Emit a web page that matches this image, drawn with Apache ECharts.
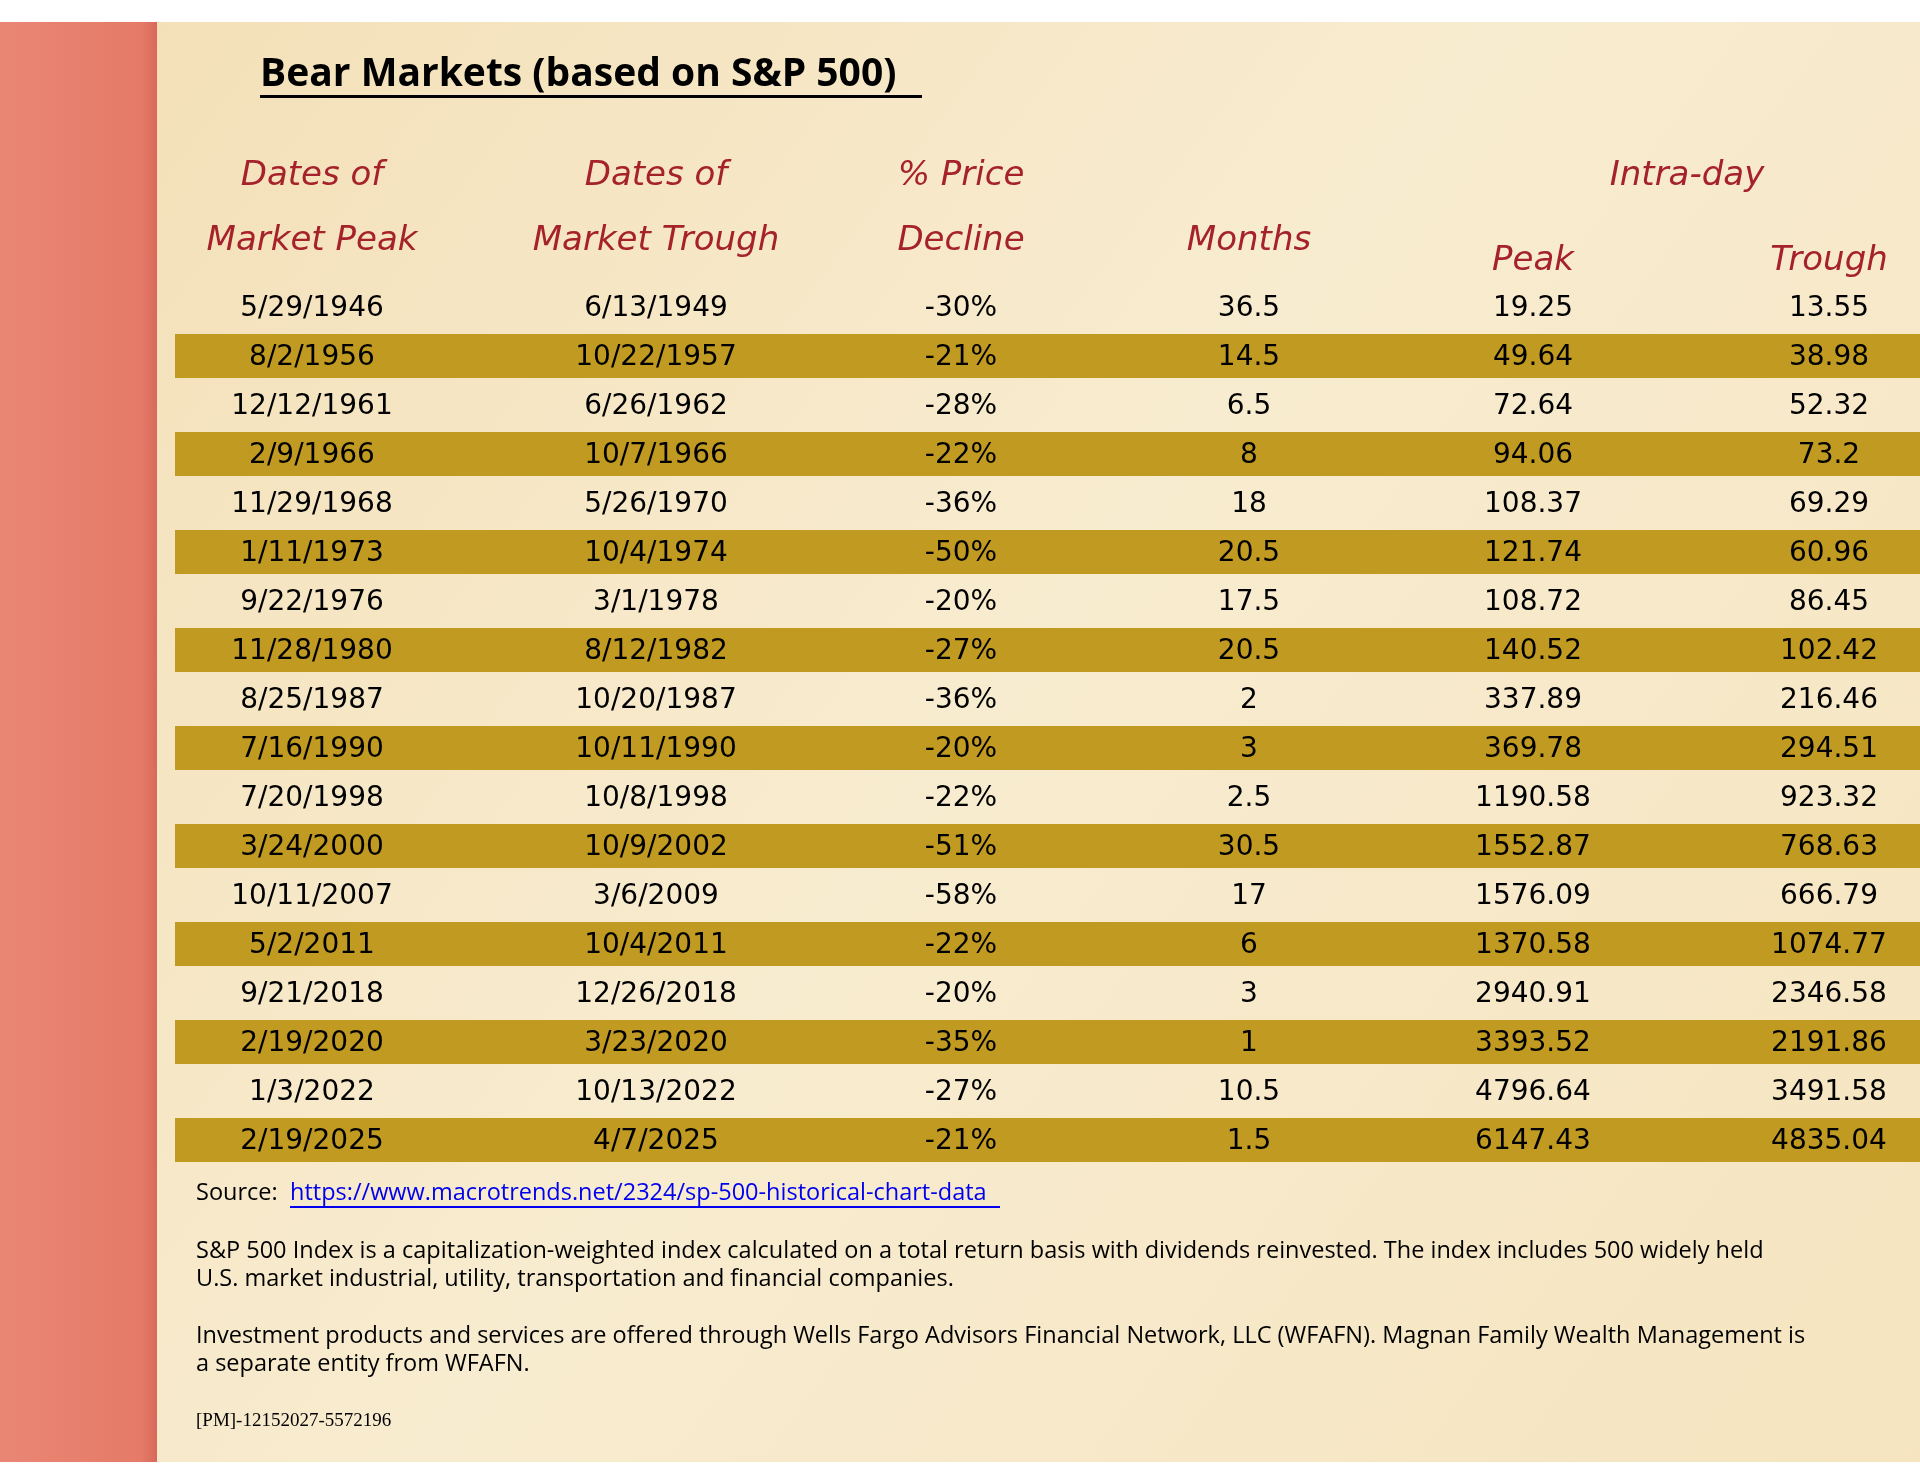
<!DOCTYPE html>
<html>
<head>
<meta charset="utf-8">
<script src="https://cdn.jsdelivr.net/npm/echarts@6/dist/echarts.min.js"></script>
<style>
  html, body { margin: 0; padding: 0; background: #fff; }
  #chart { width: 1920px; height: 1483px; }
</style>
</head>
<body>
<div id="chart"></div>
<script>
  var rows = [
    ['5/29/1946', '6/13/1949', '-30%', '36.5', '19.25', '13.55'],
    ['8/2/1956', '10/22/1957', '-21%', '14.5', '49.64', '38.98'],
    ['12/12/1961', '6/26/1962', '-28%', '6.5', '72.64', '52.32'],
    ['2/9/1966', '10/7/1966', '-22%', '8', '94.06', '73.2'],
    ['11/29/1968', '5/26/1970', '-36%', '18', '108.37', '69.29'],
    ['1/11/1973', '10/4/1974', '-50%', '20.5', '121.74', '60.96'],
    ['9/22/1976', '3/1/1978', '-20%', '17.5', '108.72', '86.45'],
    ['11/28/1980', '8/12/1982', '-27%', '20.5', '140.52', '102.42'],
    ['8/25/1987', '10/20/1987', '-36%', '2', '337.89', '216.46'],
    ['7/16/1990', '10/11/1990', '-20%', '3', '369.78', '294.51'],
    ['7/20/1998', '10/8/1998', '-22%', '2.5', '1190.58', '923.32'],
    ['3/24/2000', '10/9/2002', '-51%', '30.5', '1552.87', '768.63'],
    ['10/11/2007', '3/6/2009', '-58%', '17', '1576.09', '666.79'],
    ['5/2/2011', '10/4/2011', '-22%', '6', '1370.58', '1074.77'],
    ['9/21/2018', '12/26/2018', '-20%', '3', '2940.91', '2346.58'],
    ['2/19/2020', '3/23/2020', '-35%', '1', '3393.52', '2191.86'],
    ['1/3/2022', '10/13/2022', '-27%', '10.5', '4796.64', '3491.58'],
    ['2/19/2025', '4/7/2025', '-21%', '1.5', '6147.43', '4835.04']
  ]
  var colX = [312, 656, 961, 1249, 1533, 1829]
  var rowY0 = 309
  var rowH = 49
  var red = '#a5222a'
  var font = 'DejaVu Sans'

  var els = []
  // background
  els.push({ type: 'rect', shape: { x: 0, y: 22, width: 1920, height: 1440 },
    style: { fill: new echarts.graphic.LinearGradient(0, 0, 1, 1, [
      { offset: 0, color: '#f3dfb6' }, { offset: 0.5, color: '#f8ecd0' }, { offset: 1, color: '#f5e4bf' }]) } })
  els.push({ type: 'rect', shape: { x: 0, y: 22, width: 157, height: 1440 },
    style: { fill: new echarts.graphic.LinearGradient(0, 0, 1, 0, [
      { offset: 0, color: '#e98774' }, { offset: 0.9, color: '#e57a68' }, { offset: 1, color: '#d8695a' }]) } })

  function txt(x, y, s, opt) {
    var st = { text: s, x: x, y: y, fill: '#000', font: '28px "' + font + '"',
      align: 'center', verticalAlign: 'middle' }
    for (var k in opt) st[k] = opt[k]
    els.push({ type: 'text', style: st })
  }

  txt(260, 75, 'Bear Markets (based on S&P 500)', { align: 'left', font: 'bold 39px "Open Sans"' })
  els.push({ type: 'rect', shape: { x: 260, y: 95, width: 662, height: 3 }, style: { fill: '#000' } })

  var hf = 'italic 34px "' + font + '"'
  txt(colX[0], 176, 'Dates of', { fill: red, font: hf })
  txt(colX[0], 241, 'Market Peak', { fill: red, font: hf })
  txt(colX[1], 176, 'Dates of', { fill: red, font: hf })
  txt(colX[1], 241, 'Market Trough', { fill: red, font: hf })
  txt(colX[2], 176, '% Price', { fill: red, font: hf })
  txt(colX[2], 241, 'Decline', { fill: red, font: hf })
  txt(colX[3], 241, 'Months', { fill: red, font: hf })
  txt(1687, 176, 'Intra-day', { fill: red, font: hf })
  txt(colX[4], 261, 'Peak', { fill: red, font: hf })
  txt(colX[5], 261, 'Trough', { fill: red, font: hf })

  rows.forEach(function (r, i) {
    var y = rowY0 + i * rowH
    if (i % 2 === 1) {
      els.push({ type: 'rect', shape: { x: 175, y: y - 24, width: 1745, height: 44 }, style: { fill: '#c19a22' } })
    }
    r.forEach(function (v, j) { txt(colX[j], y, v, {}) })
  })

  var sf = '23.5px "Open Sans"'
  txt(196, 1193, 'Source:', { align: 'left', font: sf })
  txt(290, 1193, 'https://www.macrotrends.net/2324/sp-500-historical-chart-data', { align: 'left', font: sf, fill: '#0000ee' })
  els.push({ type: 'rect', shape: { x: 290, y: 1206, width: 710, height: 2 }, style: { fill: '#0000ee' } })
  txt(196, 1251, 'S&P 500 Index is a capitalization-weighted index calculated on a total return basis with dividends reinvested. The index includes 500 widely held', { align: 'left', font: sf })
  txt(196, 1279, 'U.S. market industrial, utility, transportation and financial companies.', { align: 'left', font: sf })
  txt(196, 1336, 'Investment products and services are offered through Wells Fargo Advisors Financial Network, LLC (WFAFN). Magnan Family Wealth Management is', { align: 'left', font: sf })
  txt(196, 1364, 'a separate entity from WFAFN.', { align: 'left', font: sf })
  txt(196, 1421, '[PM]-12152027-5572196', { align: 'left', font: '19px "Liberation Serif"' })

  var chart = echarts.init(document.getElementById('chart'))
  chart.setOption({ animation: false, graphic: { elements: els } })
</script>
</body>
</html>
